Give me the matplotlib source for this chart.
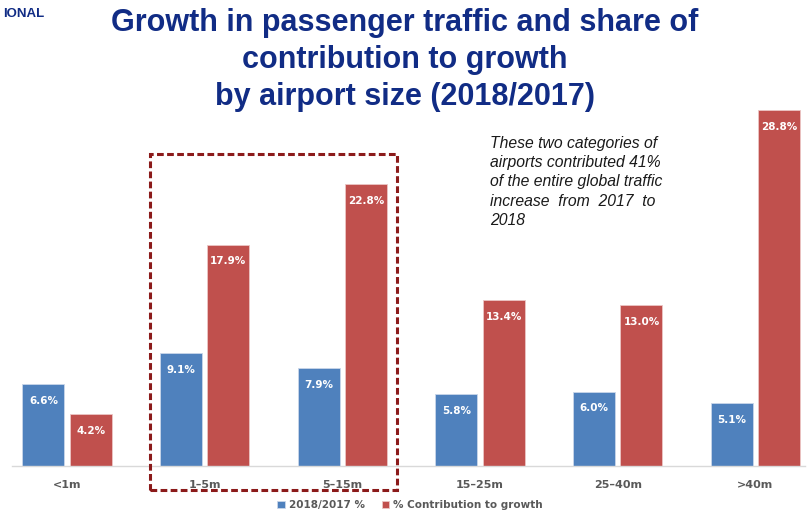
import matplotlib.pyplot as plt
import numpy as np
from matplotlib.patches import Rectangle

CATEGORIES = ['<1m', '1–5m', '5–15m', '15–25m', '25–40m', '>40m']
GROWTH = [6.6, 9.1, 7.9, 5.8, 6.0, 5.1]
CONTRIBUTION = [4.2, 17.9, 22.8, 13.4, 13.0, 28.8]
SERIES_NAMES = ['2018/2017 %', '% Contribution to growth']

BLUE = '#4F81BD'
RED = '#C0504D'
NAVY = '#112C85'
GREY = '#595959'

fig = plt.figure(figsize=(8.1, 5.14), dpi=100)
ax = fig.add_axes([12 / 810, 48 / 514, 793 / 810, (466 - 95) / 514])

x = np.arange(len(CATEGORIES))
width = 0.305
offset = 0.172

bars_a = ax.bar(x - offset, GROWTH, width, color=BLUE, edgecolor='#c9d6ea', linewidth=0.6,
                label=SERIES_NAMES[0])
bars_b = ax.bar(x + offset, CONTRIBUTION, width, color=RED, edgecolor='#ebc6c5', linewidth=0.6,
                label=SERIES_NAMES[1])

for bars, vals in ((bars_a, GROWTH), (bars_b, CONTRIBUTION)):
    for b, v in zip(bars, vals):
        ax.annotate(f'{v:.1f}%', (b.get_x() + b.get_width() / 2, v),
                    xytext=(0, -12), textcoords='offset points',
                    ha='center', va='center', color='white', fontsize=7.5,
                    fontweight='bold', family='DejaVu Sans')

ax.set_xlim(-0.40, 5.36)
ax.set_ylim(0, 30)
ax.set_xticks(x)
ax.set_xticklabels(CATEGORIES, fontsize=8, color=GREY, fontweight='bold', family='DejaVu Sans')
ax.tick_params(axis='x', length=0, pad=10)
ax.set_yticks([])
for side in ('left', 'right', 'top'):
    ax.spines[side].set_visible(False)
ax.spines['bottom'].set_color('#d9d9d9')
ax.spines['bottom'].set_linewidth(1)

# dashed frame round the 1-5m and 5-15m groups
fig.patches.append(Rectangle((150 / 810, 1 - 490 / 514), 247 / 810, 336 / 514,
                             transform=fig.transFigure, fill=False, edgecolor='#8B1A1A',
                             linewidth=2.2, linestyle=(0, (2.2, 1.1))))

fig.text(0.50, 1 - 60 / 514, 'Growth in passenger traffic and share of\ncontribution to growth\nby airport size (2018/2017)',
         ha='center', va='center', fontsize=22, fontweight='bold', color=NAVY,
         family='Liberation Sans', linespacing=1.31)
fig.text(3 / 810, 1 - 14 / 514, 'IONAL', ha='left', va='center', fontsize=9.5,
         fontweight='bold', color=NAVY, family='Liberation Sans')

fig.text(490 / 810, 1 - 136 / 514,
         'These two categories of\nairports contributed 41%\nof the entire global traffic\nincrease  from  2017  to\n2018',
         ha='left', va='top', fontsize=11.3, style='italic', color='#1a1a1a',
         family='Liberation Sans', linespacing=1.35)

leg = fig.legend(handles=[bars_a, bars_b], labels=SERIES_NAMES, loc='center',
                 bbox_to_anchor=(410 / 810, 1 - 505 / 514), ncol=2, frameon=False,
                 handlelength=0.7, handleheight=0.7, handletextpad=0.4, columnspacing=1.6,
                 prop={'family': 'DejaVu Sans', 'size': 7.5, 'weight': 'bold'})
for t in leg.get_texts():
    t.set_color(GREY)

fig.savefig('out.png', dpi=100)
